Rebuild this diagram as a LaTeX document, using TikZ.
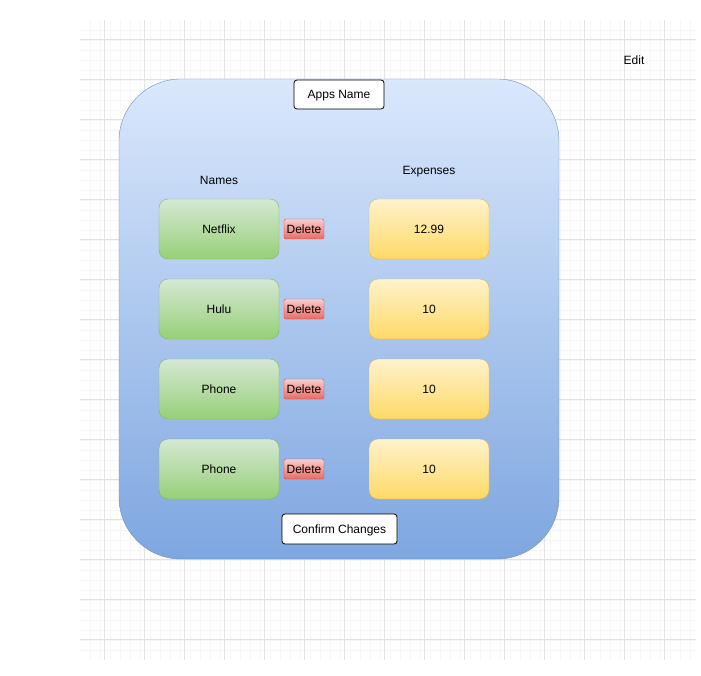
\documentclass[tikz,border=0pt]{standalone}
\usepackage{fontspec}
\setmainfont{Liberation Sans}
\definecolor{gmin}{HTML}{F6F6F6}
\definecolor{gmaj}{HTML}{E2E2E2}
\definecolor{blueT}{HTML}{DAE8FC}
\definecolor{blueB}{HTML}{7EA6E0}
\definecolor{blueS}{HTML}{6C8EBF}
\definecolor{greenT}{HTML}{D5E8D4}
\definecolor{greenB}{HTML}{97D077}
\definecolor{greenS}{HTML}{82B366}
\definecolor{redT}{HTML}{F8CECC}
\definecolor{redB}{HTML}{EA6B66}
\definecolor{redS}{HTML}{B85450}
\definecolor{yelT}{HTML}{FFF2CC}
\definecolor{yelB}{HTML}{FFD966}
\definecolor{yelS}{HTML}{D6B656}
\tikzset{
  every node/.style={font=\fontsize{12}{14}\selectfont, inner sep=0pt, text depth=0pt},
  namebox/.style={draw=greenS, top color=greenT, bottom color=greenB, rounded corners=9pt, minimum width=120pt, minimum height=60pt},
  delbox/.style={draw=redS, top color=redT, bottom color=redB, rounded corners=2pt, minimum width=40pt, minimum height=20pt},
  expbox/.style={draw=yelS, top color=yelT, bottom color=yelB, rounded corners=9pt, minimum width=120pt, minimum height=60pt},
  whitebox/.style={draw=black, fill=white, rounded corners=3pt, line width=0.8pt},
  lbl/.style={}
}
\begin{document}
\begin{tikzpicture}[x=1pt,y=-1pt]
\useasboundingbox (0,0) rectangle (701,676);
% grid
\foreach \x in {90,100,...,690}{\draw[gmin, line width=0.8pt] (\x,20) -- (\x,660);}
\foreach \y in {30,40,...,650}{\draw[gmin, line width=0.8pt] (80,\y) -- (696,\y);}
\foreach \x in {104,144,...,664}{\draw[gmaj, line width=0.8pt] (\x,20) -- (\x,660);}
\foreach \y in {39.5,79.5,...,639.5}{\draw[gmaj, line width=0.8pt] (80,\y) -- (696,\y);}
% main container
\node[draw=blueS, top color=blueT, bottom color=blueB, rounded corners=62pt, minimum width=440pt, minimum height=480pt] (main) at (339,319) {};
\node[whitebox, minimum width=90pt, minimum height=29pt] (apps) at (339,94.5) {Apps Name};
\node[lbl] (names) at (219,180) {Names};
\node[lbl] (exp) at (429,170) {Expenses};
% rows
\node[namebox] (n1) at (219,229) {Netflix};
\node[namebox] (n2) at (219,309) {Hulu};
\node[namebox] (n3) at (219,389) {Phone};
\node[namebox] (n4) at (219,469) {Phone};
\node[delbox] (d1) at (304,229) {Delete};
\node[delbox] (d2) at (304,309) {Delete};
\node[delbox] (d3) at (304,389) {Delete};
\node[delbox] (d4) at (304,469) {Delete};
\node[expbox] (e1) at (429,229) {12.99};
\node[expbox] (e2) at (429,309) {10};
\node[expbox] (e3) at (429,389) {10};
\node[expbox] (e4) at (429,469) {10};
\node[whitebox, minimum width=115pt, minimum height=30pt] (confirm) at (339.5,529) {Confirm Changes};
\node[lbl] (edit) at (634,60) {Edit};
\end{tikzpicture}
\end{document}
